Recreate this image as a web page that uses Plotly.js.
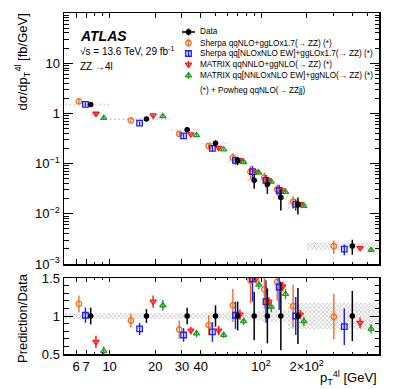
<!DOCTYPE html>
<html>
<head>
<meta charset="utf-8">
<script src="https://cdn.plot.ly/plotly-3.0.1.min.js"></script>
<style>
  html, body { margin: 0; padding: 0; background: white; }
  #chart { width: 399px; height: 389px; }
</style>
</head>
<body>
<div id="chart"></div>
<script>
// bin edges of pT(4l) [GeV]
var binEdges = [5, 10, 25, 40, 60, 80, 100, 120, 150, 200, 600];

// measured dsigma/dpT [fb/GeV], relative stat and syst uncertainties
var dataVals = [1.5, 0.77, 0.475, 0.255, 0.115, 0.0465, 0.039, 0.0211, 0.0154, 0.00229];
var dataStat = [0.11, 0.09, 0.11, 0.14, 0.19, 0.32, 0.36, 0.45, 0.37, 0.33];
var dataSyst = [0.04, 0.04, 0.04, 0.045, 0.06, 0.06, 0.075, 0.075, 0.17, 0.17];

// prediction / data ratios and their relative uncertainties
var sherpaRatio = [1.16, 0.94, 0.82, 0.88, 1.14, 1.47, 1.35, 1.45, 1.13, 0.99];
var sherpaErr = [0.11, 0.09, 0.12, 0.13, 0.22, 0.30, 0.25, 0.25, 0.28, 0.30];
var sherpaEwRatio = [1.01, 0.83, 0.75, 0.79, 1.01, 1.49, 1.19, 1.38, 1.00, 0.86];
var sherpaEwErr = [0.10, 0.08, 0.09, 0.13, 0.18, 0.30, 0.28, 0.30, 0.25, 0.24];
var matrixRatio = [0.66, 1.19, 0.81, 0.81, 1.02, 1.49, 1.19, 1.39, 1.02, 0.91];
var matrixErr = [0.08, 0.08, 0.05, 0.06, 0.07, 0.06, 0.06, 0.06, 0.06, 0.07];
var matrixEwRatio = [0.54, 1.14, 0.77, 0.75, 0.93, 1.41, 1.12, 1.29, 0.93, 0.83];
var matrixEwErr = [0.06, 0.07, 0.05, 0.04, 0.05, 0.06, 0.07, 0.07, 0.06, 0.06];

var seriesNames = [
  "Sherpa qqNLO+ggLOx1.7(\u2192 ZZ) (*)",
  "Sherpa qq[NLOxNLO EW]+ggLOx1.7(\u2192 ZZ) (*)",
  "MATRIX qqNNLO+ggNLO(\u2192 ZZ) (*)",
  "MATRIX qq[NNLOxNLO EW]+ggNLO(\u2192 ZZ) (*)"
];

var fontFam = "Liberation Sans, Arial, sans-serif";
var W = 399, H = 389;
var L = 64, R = 379, T = 13, B = 354;   // frame in pixels
var topLow = 264, botHigh = 278;

var preds = [
  {ratio: sherpaRatio, err: sherpaErr, color: "#f26b1d", symbol: "circle-open", shift: -0.245},
  {ratio: sherpaEwRatio, err: sherpaEwErr, color: "#1a1aff", symbol: "square-open", shift: -0.115},
  {ratio: matrixRatio, err: matrixErr, color: "#ff1010", symbol: "triangle-down-open", shift: 0.125},
  {ratio: matrixEwRatio, err: matrixEwErr, color: "#1c9c1c", symbol: "triangle-up-open", shift: 0.33}
];

var centers = [];
for (var i = 0; i < dataVals.length; i++) {
  centers.push((binEdges[i] + binEdges[i + 1]) / 2);
}

var hatch = {shape: "x", fgcolor: "#a6a6a6", bgcolor: "rgba(255,255,255,0)", size: 3, solidity: 0.3};

function bandTrace(scale, xa, ya) {
  var bx = [], by = [];
  for (var i = 0; i < dataVals.length; i++) {
    var lo = binEdges[i], hi = binEdges[i + 1];
    var v = scale ? dataVals[i] : 1;
    var d = v * (1 - dataSyst[i]), u = v * (1 + dataSyst[i]);
    bx.push(lo, hi, hi, lo, lo, null);
    by.push(d, d, u, u, d, null);
  }
  return {
    x: bx, y: by, xaxis: xa, yaxis: ya,
    mode: "lines", fill: "toself",
    fillcolor: "rgba(255,255,255,0)",
    fillpattern: hatch,
    line: {width: 0, color: "rgba(0,0,0,0)"},
    hoverinfo: "skip", showlegend: false
  };
}

var traces = [];
traces.push(bandTrace(true, "x", "y"));
traces.push(bandTrace(false, "x2", "y2"));

preds.forEach(function (p) {
  var px = [], py = [], pe = [];
  for (var i = 0; i < dataVals.length; i++) {
    var w = binEdges[i + 1] - binEdges[i];
    px.push(centers[i] + p.shift * w);
    py.push(p.ratio[i] * dataVals[i]);
    pe.push(p.ratio[i] * dataVals[i] * p.err[i]);
  }
  var mk = {symbol: p.symbol, size: 5.5, color: p.color, line: {color: p.color, width: 1.3}};
  traces.push({
    x: px, y: py, xaxis: "x", yaxis: "y", mode: "markers", marker: mk,
    error_y: {type: "data", array: pe, color: p.color, thickness: 1.4, width: 0},
    showlegend: false
  });
  traces.push({
    x: px, y: p.ratio, xaxis: "x2", yaxis: "y2", mode: "markers", marker: mk,
    error_y: {type: "data", array: p.err, color: p.color, thickness: 1.4, width: 0},
    showlegend: false
  });
});

var ones = [], dataErrAbs = [];
for (var i = 0; i < dataVals.length; i++) {
  ones.push(1);
  dataErrAbs.push(dataVals[i] * dataStat[i]);
}
var dataMarker = {symbol: "circle", size: 5.5, color: "black"};
traces.push({
  x: centers, y: dataVals, xaxis: "x", yaxis: "y", mode: "markers", marker: dataMarker,
  error_y: {type: "data", array: dataErrAbs, color: "black", thickness: 1.5, width: 0},
  showlegend: false
});
traces.push({
  x: centers, y: ones, xaxis: "x2", yaxis: "y2", mode: "markers", marker: dataMarker,
  error_y: {type: "data", array: dataStat, color: "black", thickness: 1.5, width: 0},
  showlegend: false
});

// legend glyphs, drawn on an invisible overlay axis in pixel units
var legX = 188.5, legRows = [32, 43, 53.5, 64.5, 75.5];
traces.push({
  x: [182, 195, 195, 182, 182], y: [29, 29, 35, 35, 29], xaxis: "x3", yaxis: "y3",
  mode: "lines", fill: "toself", fillcolor: "rgba(255,255,255,0)",
  fillpattern: hatch,
  line: {width: 0, color: "rgba(0,0,0,0)"}, showlegend: false, hoverinfo: "skip"
});
traces.push({
  x: [182, 195], y: [32, 32], xaxis: "x3", yaxis: "y3", mode: "lines",
  line: {color: "black", width: 1.5}, showlegend: false, hoverinfo: "skip"
});
traces.push({
  x: [legX], y: [32], xaxis: "x3", yaxis: "y3", mode: "markers", marker: dataMarker,
  error_y: {type: "data", array: [3.5], color: "black", thickness: 1.5, width: 0},
  showlegend: false, hoverinfo: "skip"
});
preds.forEach(function (p, k) {
  traces.push({
    x: [legX], y: [legRows[k + 1]], xaxis: "x3", yaxis: "y3", mode: "markers",
    marker: {symbol: p.symbol, size: 5.5, color: p.color, line: {color: p.color, width: 1.3}},
    error_y: {type: "data", array: [3.5], color: p.color, thickness: 1.4, width: 0},
    showlegend: false, hoverinfo: "skip"
  });
});

// minor ticks
var yMinor = [];
for (var e = -3; e < 2; e++) {
  for (var m = 2; m <= 9; m++) yMinor.push(m * Math.pow(10, e));
}
var xMinor = [5, 8, 9, 50, 60, 70, 80, 90, 300, 400, 500];
var xTicks = [6, 7, 10, 20, 30, 40, 100, 200];
var xText = ["6", "7", "10", "20", "30", "40", "10<sup>2</sup>", "2\u00d710<sup>2</sup>"];

var plotW = R - L, plotH = B - T;
function px2x(p) { return (p - L) / plotW; }
function py2y(p) { return (B - p) / plotH; }

var axisCommon = {
  showline: true, linecolor: "black", linewidth: 1.5, mirror: "allticks",
  ticks: "inside", tickcolor: "black", tickwidth: 1, showgrid: false, zeroline: false,
  tickfont: {family: fontFam, size: 13, color: "black"}, fixedrange: true
};

function merge(a, b) {
  var o = {};
  for (var k in a) o[k] = a[k];
  for (var k2 in b) o[k2] = b[k2];
  return o;
}

var xRange = [Math.log10(5), Math.log10(600)];

var annotations = [];
function ann(text, x, y, opts) {
  var a = {
    text: text, x: x, y: y, xref: "paper", yref: "paper", showarrow: false,
    xanchor: "left", yanchor: "middle",
    font: {family: fontFam, size: 8.2, color: "black"}
  };
  for (var k in (opts || {})) a[k] = opts[k];
  annotations.push(a);
}

var legTextX = px2x(198);
ann("Data", legTextX, py2y(legRows[0]));
seriesNames.forEach(function (n, k) { ann(n, legTextX, py2y(legRows[k + 1])); });
ann("(*) + Powheg qqNLO(\u2192 ZZjj)", legTextX, py2y(90));

ann("<b><i>ATLAS</i></b>", px2x(78), py2y(36), {font: {family: fontFam, size: 14, color: "black"}});
ann("\u221as = 13.6 TeV, 29 fb<sup>-1</sup>", px2x(78), py2y(51), {font: {family: fontFam, size: 10, color: "black"}});
ann("ZZ \u21924l", px2x(78), py2y(66), {font: {family: fontFam, size: 10, color: "black"}});

ann("d\u03c3/dp<sub>T</sub><sup>4l</sup> [fb/GeV]", px2x(22), py2y(12),
  {textangle: -90, xanchor: "center", yanchor: "top", font: {family: fontFam, size: 13, color: "black"}});
ann("Prediction/Data", px2x(22), py2y(318),
  {textangle: -90, xanchor: "center", yanchor: "middle", font: {family: fontFam, size: 13, color: "black"}});
ann("p<sub>T</sub><sup>4l</sup> [GeV]", 1, py2y(378),
  {xanchor: "right", yanchor: "middle", font: {family: fontFam, size: 13, color: "black"}});

var layout = {
  width: W, height: H,
  margin: {l: L, r: W - R, t: T, b: H - B, pad: 0},
  paper_bgcolor: "white", plot_bgcolor: "rgba(0,0,0,0)",
  showlegend: false,
  xaxis: merge(axisCommon, {
    type: "log", range: xRange, domain: [0, 1], anchor: "y",
    tickmode: "array", tickvals: xTicks, ticktext: xText, showticklabels: false, ticklen: 5,
    minor: {tickmode: "array", tickvals: xMinor, ticks: "inside", ticklen: 2.5, tickcolor: "black"}
  }),
  yaxis: merge(axisCommon, {
    type: "log", range: [-3, 2], domain: [py2y(topLow), 1], anchor: "x",
    tickmode: "array", tickvals: [0.001, 0.01, 0.1, 1, 10],
    ticktext: ["10<sup>\u22123</sup>", "10<sup>\u22122</sup>", "10<sup>\u22121</sup>", "1", "10"],
    ticklen: 9,
    minor: {tickmode: "array", tickvals: yMinor, ticks: "inside", ticklen: 4.5, tickcolor: "black"}
  }),
  xaxis2: merge(axisCommon, {
    type: "log", range: xRange, domain: [0, 1], anchor: "y2",
    tickmode: "array", tickvals: xTicks, ticktext: xText, ticklen: 4,
    minor: {tickmode: "array", tickvals: xMinor, ticks: "inside", ticklen: 2, tickcolor: "black"}
  }),
  yaxis2: merge(axisCommon, {
    range: [0.5, 1.5], domain: [0, py2y(botHigh)], anchor: "x2",
    tickmode: "array", tickvals: [0.5, 1, 1.5], ticktext: ["0.5", "1", "1.5"], ticklen: 9,
    minor: {dtick: 0.1, ticks: "inside", ticklen: 4.5, tickcolor: "black"}
  }),
  xaxis3: {domain: [0, 1], anchor: "y3", range: [L, R], visible: false, fixedrange: true},
  yaxis3: {domain: [0, 1], anchor: "x3", range: [B, T], visible: false, fixedrange: true},
  annotations: annotations
};

Plotly.newPlot("chart", traces, layout, {displayModeBar: false, staticPlot: true});
</script>
</body>
</html>
